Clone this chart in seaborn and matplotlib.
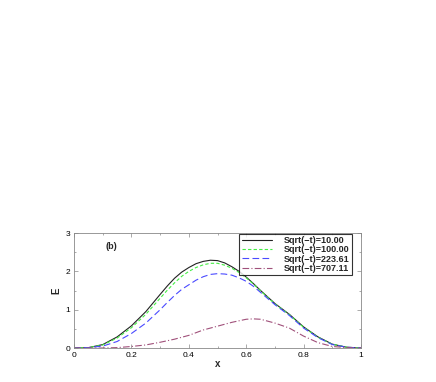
import matplotlib
matplotlib.use("Agg")
import matplotlib.pyplot as plt
import seaborn as sns
import pandas as pd
from matplotlib.ticker import MultipleLocator

x_vals = [0.0, 0.05, 0.1, 0.15, 0.2, 0.25, 0.3, 0.325, 0.35, 0.375, 0.4,
          0.425, 0.45, 0.475, 0.5, 0.525, 0.55, 0.575, 0.6, 0.625, 0.65,
          0.7, 0.75, 0.8, 0.85, 0.9, 0.95, 1.0]
e_10 = [0.0, 0.01, 0.09, 0.29, 0.58, 0.95, 1.40, 1.62, 1.82, 1.98, 2.10,
        2.20, 2.26, 2.29, 2.28, 2.22, 2.12, 2.00, 1.85, 1.68, 1.50,
        1.16, 0.88, 0.55, 0.29, 0.10, 0.02, 0.0]
e_100 = [0.0, 0.01, 0.08, 0.26, 0.53, 0.88, 1.30, 1.51, 1.70, 1.87, 2.00,
         2.10, 2.17, 2.21, 2.21, 2.16, 2.08, 1.97, 1.83, 1.67, 1.49,
         1.15, 0.87, 0.54, 0.28, 0.10, 0.02, 0.0]
e_223 = [0.0, 0.01, 0.05, 0.17, 0.38, 0.65, 1.00, 1.19, 1.37, 1.53, 1.65,
         1.77, 1.86, 1.92, 1.94, 1.93, 1.90, 1.83, 1.74, 1.61, 1.45,
         1.13, 0.85, 0.52, 0.27, 0.09, 0.02, 0.0]
e_707 = [0.0, 0.0, 0.0, 0.01, 0.04, 0.08, 0.15, 0.19, 0.23, 0.28, 0.33,
         0.40, 0.47, 0.52, 0.57, 0.62, 0.67, 0.71, 0.75, 0.76, 0.75,
         0.65, 0.52, 0.31, 0.14, 0.04, 0.01, 0.0]
labels = ["Sqrt(\u2212t)=10.00", "Sqrt(\u2212t)=100.00",
          "Sqrt(\u2212t)=223.61", "Sqrt(\u2212t)=707.11"]

sns.set_style("ticks")
plt.rcParams['font.family'] = ['Liberation Sans', 'DejaVu Sans']

fig = plt.figure(figsize=(4.36, 3.82), dpi=100)
ax = fig.add_axes([0.170, 0.089, 0.658, 0.301])

series = [e_10, e_100, e_223, e_707]
colors = ["#222222", "#44ee44", "#4a4aff", "#a0507a"]
dashes = [(None, None), (3, 2), (6, 3), (6, 2, 1, 2)]
for ys, lab, c, d in zip(series, labels, colors, dashes):
    df = pd.DataFrame({"x": x_vals, "E": ys})
    sns.lineplot(data=df, x="x", y="E", ax=ax, color=c, linewidth=0.8,
                 label=lab)
    if d[0] is not None:
        ax.lines[-1].set_dashes(d)

ax.set_xlim(0, 1)
ax.set_ylim(0, 3)
ax.xaxis.set_minor_locator(MultipleLocator(0.1))
ax.yaxis.set_minor_locator(MultipleLocator(0.5))
ax.set_xticks([0, 0.2, 0.4, 0.6, 0.8, 1.0])
ax.set_xticklabels(["0", "0.2", "0.4", "0.6", "0.8", "1"])
ax.set_yticks([0, 1, 2, 3])
ax.set_yticklabels(["0", "1", "2", "3"])
ax.tick_params(which="both", direction="in", top=True, right=True,
               colors="#888888", labelcolor="black", labelsize=6, width=0.5)
ax.tick_params(which="major", length=3, pad=3)
ax.tick_params(which="minor", length=1.5)
for s in ax.spines.values():
    s.set_color("#888888")
    s.set_linewidth(0.6)

ax.set_xlabel("x", fontsize=7, fontweight="bold", labelpad=0)
ax.set_ylabel("E", fontsize=7, fontweight="bold", labelpad=3)
ax.text(0.11, 0.88, "(b)", transform=ax.transAxes, fontsize=6.5,
        fontweight="bold", va="center")

leg = ax.legend(loc="upper right", bbox_to_anchor=(0.972, 1.0),
                prop={"size": 6.5, "weight": "bold"}, frameon=True,
                fancybox=False, borderpad=0.25, labelspacing=0.02,
                handlelength=3.4, handletextpad=1.3, borderaxespad=0.1)
leg.get_frame().set_edgecolor("black")
leg.get_frame().set_linewidth(0.8)
for h in leg.get_lines():
    h.set_linewidth(0.8)

fig.savefig("out.png", dpi=100)
